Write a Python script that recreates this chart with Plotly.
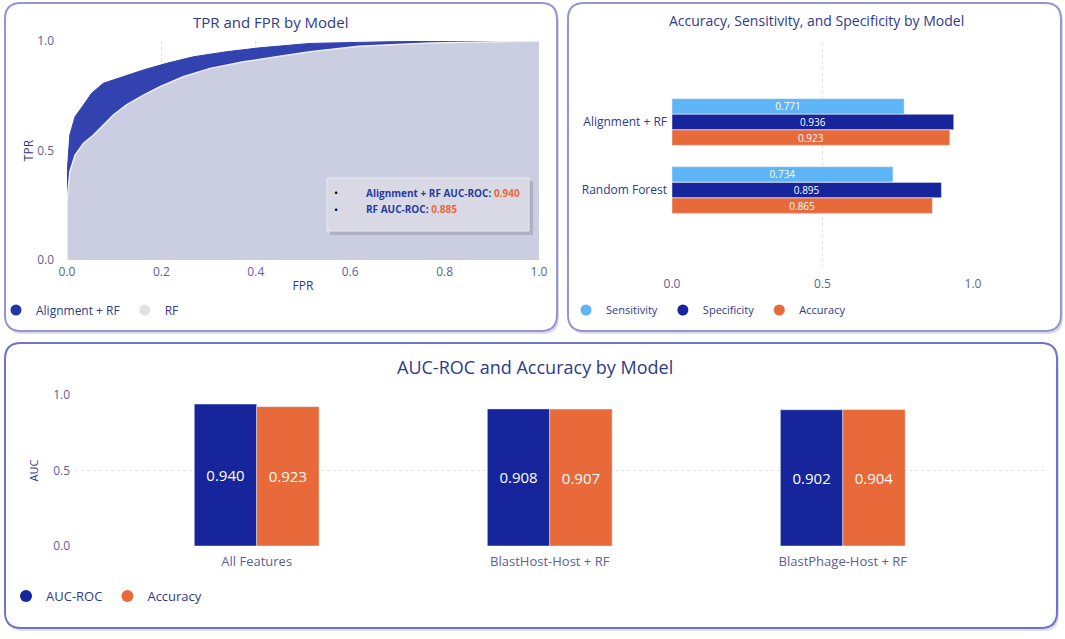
import plotly.graph_objects as go

W, H = 1065, 639

# ROC curves
fpr_align = [0.0, 0.0, 0.006, 0.017, 0.035, 0.052, 0.077, 0.112, 0.162, 0.211, 0.268, 0.338, 0.409, 0.515, 0.69, 0.9, 1.0]
tpr_align = [0.0, 0.388, 0.571, 0.654, 0.708, 0.761, 0.807, 0.832, 0.868, 0.898, 0.928, 0.951, 0.969, 0.989, 0.997, 1.0, 1.0]
fpr_rf = [0.0, 0.0, 0.006, 0.017, 0.035, 0.056, 0.077, 0.098, 0.126, 0.162, 0.197, 0.246, 0.303, 0.374, 0.444, 0.515, 0.618, 0.77, 1.0]
tpr_rf = [0.0, 0.266, 0.403, 0.479, 0.533, 0.571, 0.616, 0.662, 0.708, 0.753, 0.791, 0.837, 0.875, 0.905, 0.928, 0.951, 0.976, 0.991, 1.0]
auc_align = 0.940
auc_rf = 0.885

# metrics by model
models_2 = ["Alignment + RF", "Random Forest"]
sensitivity = [0.771, 0.734]
specificity = [0.936, 0.895]
accuracy_2 = [0.923, 0.865]

# AUC / accuracy by feature set
models_3 = ["All Features", "BlastHost-Host + RF", "BlastPhage-Host + RF"]
auc_roc = [0.940, 0.908, 0.902]
accuracy_3 = [0.923, 0.907, 0.904]

NAVY = "#2E3A8C"
DARK_BLUE = "#16259B"
ROC_BLUE = "#3242AE"
ORANGE = "#E8693A"
LIGHT_BLUE = "#5DB5F6"
RF_FILL = "#CBCDE0"
TICK = "#5A6196"
FONT = "Open Sans"


def px_x(v):
    return v / W


def px_y(v):
    return 1 - v / H


def rounded_box(x0, y0, x1, y1, r=16):
    # path in paper coords, pixel inputs
    rx, ry = r / W, r / H
    a, b, c, d = px_x(x0), px_y(y1), px_x(x1), px_y(y0)
    return (f"M {a+rx},{b} L {c-rx},{b} Q {c},{b} {c},{b+ry} L {c},{d-ry} Q {c},{d} {c-rx},{d} "
            f"L {a+rx},{d} Q {a},{d} {a},{d-ry} L {a},{b+ry} Q {a},{b} {a+rx},{b} Z")


fig = go.Figure()

# --- panel 1: ROC areas
fig.add_trace(go.Scatter(x=fpr_align, y=tpr_align, mode="lines", fill="tozeroy", fillcolor=ROC_BLUE,
                         line=dict(color=ROC_BLUE, width=1), showlegend=False, xaxis="x", yaxis="y"))
fig.add_trace(go.Scatter(x=fpr_rf, y=tpr_rf, mode="lines", fill="tozeroy", fillcolor=RF_FILL,
                         line=dict(color="#EEEEF4", width=1.5), showlegend=False, xaxis="x", yaxis="y"))
fig.add_trace(go.Scatter(x=[None], y=[None], mode="markers", name="Alignment + RF",
                         marker=dict(color="#2238A8", size=11), legend="legend", xaxis="x", yaxis="y"))
fig.add_trace(go.Scatter(x=[None], y=[None], mode="markers", name="RF",
                         marker=dict(color="#E2E2E6", size=11), legend="legend", xaxis="x", yaxis="y"))

# --- panel 2: horizontal grouped bars (top to bottom on a reversed axis)
w2 = 0.225
for i, (name, vals, col) in enumerate([("Sensitivity", sensitivity, LIGHT_BLUE),
                                       ("Specificity", specificity, DARK_BLUE),
                                       ("Accuracy", accuracy_2, ORANGE)]):
    fig.add_trace(go.Bar(y=models_2, x=vals, orientation="h", marker_color=col, showlegend=False,
                         width=w2, offset=-1.5 * w2 - 0.005 + i * (w2 + 0.005),
                         text=[f"{v:.3f}" for v in vals], textposition="inside", insidetextanchor="middle",
                         constraintext="none", textangle=0,
                         textfont=dict(color="white", size=10, family=FONT), xaxis="x2", yaxis="y2"))
    fig.add_trace(go.Scatter(x=[None], y=[None], mode="markers", name=name, marker=dict(color=col, size=11),
                             legend="legend2", xaxis="x2", yaxis="y2"))

# --- panel 3: vertical grouped bars
w3 = 0.213
for i, (name, vals, col) in enumerate([("AUC-ROC", auc_roc, DARK_BLUE), ("Accuracy", accuracy_3, ORANGE)]):
    fig.add_trace(go.Bar(x=models_3, y=vals, marker_color=col, showlegend=False,
                         width=w3, offset=-w3 + i * w3,
                         text=[f"{v:.3f}" for v in vals], textposition="inside", insidetextanchor="middle",
                         constraintext="none", textangle=0,
                         textfont=dict(color="white", size=15, family=FONT), xaxis="x3", yaxis="y3"))
    fig.add_trace(go.Scatter(x=[None], y=[None], mode="markers", name=name, marker=dict(color=col, size=12),
                             legend="legend3", xaxis="x3", yaxis="y3"))

grid = dict(showgrid=True, gridcolor="#DDDDE6", griddash="dot", gridwidth=1, zeroline=False, automargin=False)
tickf = dict(size=12, color=TICK, family=FONT)

fig.update_layout(
    width=W, height=H, margin=dict(l=0, r=0, t=0, b=0, autoexpand=False),
    paper_bgcolor="white", plot_bgcolor="rgba(0,0,0,0)",
    font=dict(family=FONT, color=NAVY),
    barmode="group",
    xaxis=dict(domain=[px_x(67), px_x(539)], range=[0, 1], tickvals=[0, 0.2, 0.4, 0.6, 0.8, 1.0],
               tickformat=".1f", tickfont=tickf, ticklabelstandoff=3,
               title=dict(text="FPR", font=dict(size=12, color=NAVY), standoff=2),
               anchor="y", **grid),
    yaxis=dict(domain=[px_y(260), px_y(41)], range=[0, 1.0], tickvals=[0, 0.5, 1.0], tickformat=".1f",
               tickfont=tickf, ticklabelstandoff=12,
               title=dict(text="TPR", font=dict(size=12, color=NAVY), standoff=0),
               anchor="x", **grid),
    xaxis2=dict(domain=[px_x(672), px_x(973)], range=[0, 1.0], tickvals=[0, 0.5, 1.0], tickformat=".1f",
                tickfont=tickf, anchor="y2", ticklabelstandoff=8, **grid),
    yaxis2=dict(domain=[px_y(267), px_y(43)], range=[2.13, -1.16], type="category",
                tickfont=dict(size=12, color=NAVY, family=FONT), anchor="x2", showgrid=False,
                ticklabelstandoff=4, automargin=False),
    xaxis3=dict(domain=[px_x(75), px_x(1045)], range=[-0.62, 2.69], type="category",
                tickfont=dict(size=13, color=TICK, family=FONT), anchor="y3", showgrid=False,
                ticklabelstandoff=6, automargin=False),
    yaxis3=dict(domain=[px_y(546), px_y(395)], range=[0, 1.0], tickvals=[0, 0.5, 1.0], tickformat=".1f",
                tickfont=tickf, ticklabelstandoff=4,
                title=dict(text="AUC", font=dict(size=11, color=NAVY), standoff=12),
                anchor="x3", **grid),
    legend=dict(orientation="h", x=px_x(-4), y=px_y(310), yanchor="middle", xanchor="left",
                font=dict(size=12, color=NAVY), itemwidth=30, bgcolor="rgba(0,0,0,0)"),
    legend2=dict(orientation="h", x=px_x(566), y=px_y(310), yanchor="middle", xanchor="left",
                 font=dict(size=11, color=NAVY), itemwidth=30, bgcolor="rgba(0,0,0,0)"),
    legend3=dict(orientation="h", x=px_x(6), y=px_y(596), yanchor="middle", xanchor="left",
                 font=dict(size=13, color=NAVY), itemwidth=30, bgcolor="rgba(0,0,0,0)"),
)
fig.update_yaxes(showline=False)
fig.update_xaxes(showline=False)

# panel frames with a soft shadow
shapes = []
for (x0, y0, x1, y1), col in [((5, 3, 557, 331), "#9296D2"), ((568, 3, 1061, 331), "#9296D2"),
                              ((5, 343, 1057, 628), "#6E74C6")]:
    shapes.append(dict(type="path", xref="paper", yref="paper", path=rounded_box(x0 + 2, y0 + 3, x1 + 2, y1 + 3),
                       line=dict(width=0), fillcolor="rgba(120,120,140,0.25)", layer="below"))
    shapes.append(dict(type="path", xref="paper", yref="paper", path=rounded_box(x0, y0, x1, y1),
                       line=dict(color=col, width=2), fillcolor="white", layer="below"))

# AUC legend box inside the ROC plot
shapes.append(dict(type="rect", xref="paper", yref="paper", x0=px_x(330), y0=px_y(235), x1=px_x(533), y1=px_y(181),
                   line=dict(width=0), fillcolor="rgba(110,110,130,0.30)"))
shapes.append(dict(type="rect", xref="paper", yref="paper", x0=px_x(327), y0=px_y(231), x1=px_x(529), y1=px_y(178),
                   line=dict(color="#E6E7EF", width=1), fillcolor="#D8D9E5"))
fig.update_layout(shapes=shapes)

annotations = [
    dict(text="TPR and FPR by Model", x=px_x(270), y=px_y(22), font=dict(size=15, color=NAVY)),
    dict(text="Accuracy, Sensitivity, and Specificity by Model", x=px_x(816), y=px_y(20),
         font=dict(size=14, color=NAVY)),
    dict(text="AUC-ROC and Accuracy by Model", x=px_x(535), y=px_y(367), font=dict(size=18, color=NAVY)),
    dict(text="•", x=px_x(336), y=px_y(193), font=dict(size=11, color="black")),
    dict(text="•", x=px_x(336), y=px_y(209), font=dict(size=11, color="black")),
    dict(text=f"<b>Alignment + RF AUC-ROC: <span style='color:{ORANGE}'>{auc_align:.3f}</span></b>",
         x=px_x(364), y=px_y(193), xanchor="left", font=dict(size=10, color="#2B3A9E")),
    dict(text=f"<b>RF AUC-ROC: <span style='color:{ORANGE}'>{auc_rf:.3f}</span></b>",
         x=px_x(364), y=px_y(209), xanchor="left", font=dict(size=10, color="#2B3A9E")),
]
for a in annotations:
    a.setdefault("xanchor", "center")
    a.update(xref="paper", yref="paper", yanchor="middle", showarrow=False)
fig.update_layout(annotations=annotations)

# the page's default body margin would push the figure 8px off the window
fig.write_html("out.html", config={"displayModeBar": False},
               post_script="document.body.style.margin='0';")
